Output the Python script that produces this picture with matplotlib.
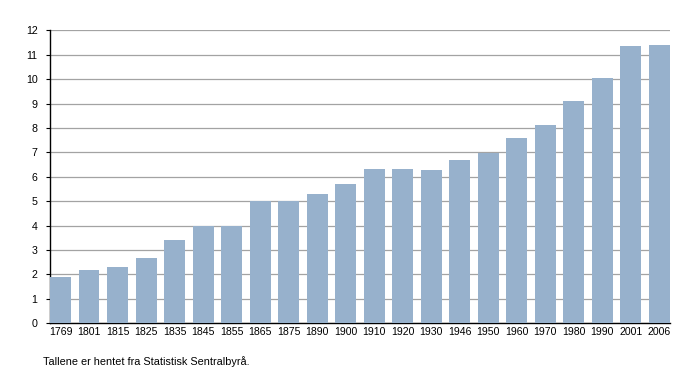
import numpy as np
import matplotlib
matplotlib.use("Agg")
import matplotlib.pyplot as plt

# data
years = ["1769", "1801", "1815", "1825", "1835", "1845", "1855", "1865", "1875",
         "1890", "1900", "1910", "1920", "1930", "1946", "1950", "1960", "1970",
         "1980", "1990", "2001", "2006"]
values = [1.90, 2.18, 2.31, 2.69, 3.42, 3.98, 3.98, 5.00, 5.00,
          5.31, 5.72, 6.32, 6.32, 6.28, 6.69, 6.96, 7.60, 8.12,
          9.10, 10.06, 11.36, 11.40]
yticks = list(range(0, 13))
caption = "Tallene er hentet fra Statistisk Sentralbyrå."

BAR_COL = "#97b1cc"
GRID_COL = "#a3a3a3"

plt.rcParams["font.family"] = ["Liberation Sans", "DejaVu Sans"]

fig = plt.figure(figsize=(7.0, 3.73), dpi=100)
ax = fig.add_axes([0.0714, 0.1332, 0.8856, 0.7856])

x = np.arange(len(years))
width = 0.735
ax.bar(x, values, width=width, color=BAR_COL, zorder=3)

ax.set_xlim(-width / 2, len(years) - 1 + width / 2)
ax.set_ylim(0, 12)
ax.set_yticks(yticks)
ax.set_yticklabels([str(t) for t in yticks], fontsize=7.7)
ax.set_xticks(x)
ax.set_xticklabels(years, fontsize=7.6)

ax.yaxis.grid(True, color=GRID_COL, lw=0.9, zorder=0)
ax.set_axisbelow(True)
for side in ("top", "right"):
    ax.spines[side].set_visible(False)
for side in ("left", "bottom"):
    ax.spines[side].set_color("black")
    ax.spines[side].set_linewidth(1.0)

ax.tick_params(axis="y", length=3, width=0.8, pad=6, colors="black")
ax.tick_params(axis="x", length=0, pad=3, colors="black")

fig.text(43 / 700, 1 - 362 / 373, caption, fontsize=7.8, va="center", ha="left")

fig.savefig("out.png", dpi=100)
plt.close(fig)
